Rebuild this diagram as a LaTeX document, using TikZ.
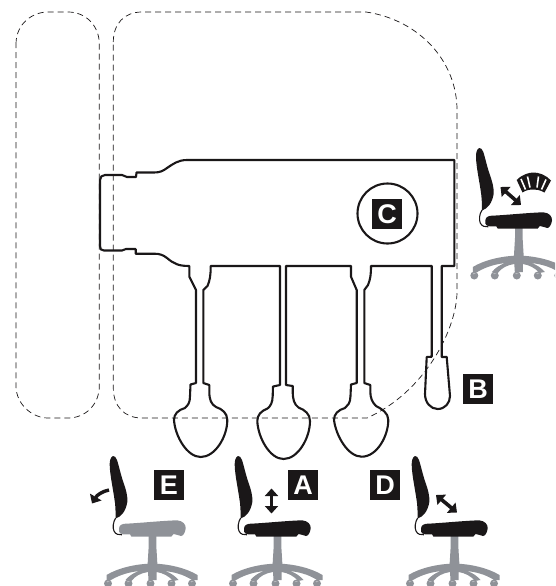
\documentclass[tikz,border=0pt]{standalone}
\usepackage{fontspec}
\setmainfont{Liberation Sans}
\usetikzlibrary{arrows.meta}
\definecolor{ink}{HTML}{1A1718}
\definecolor{steel}{HTML}{8F9298}
\tikzset{
  outline/.style={draw=ink,line width=2.1pt,line join=round,fill=none},
  zone/.style={draw=ink,line width=0.7pt,dash pattern=on 6pt off 4pt},
  tag/.style={fill=ink,text=white,minimum size=30pt,inner sep=0pt,font=\fontsize{27}{27}\selectfont\bfseries},
  twoway/.style={draw=ink,line width=3.6pt,{Triangle[length=7.5pt,width=13pt]}-{Triangle[length=7.5pt,width=13pt]}},
}
% #1 x, #2 y of backrest top, #3 seat colour
\newcommand{\officechair}[3]{%
\begin{scope}[shift={(#1,#2)}]
  \fill[steel] (35.7,80) -- (43.3,80) -- (43.3,90) -- (44.5,110) -- (34.5,110) -- (35.7,90) -- cycle;
  \fill[steel] (39.3,107.5) .. controls (22,108) and (5,112) .. (-6.5,119) -- (-6.5,124) -- (-2,124)
     .. controls (8,118) and (18,116) .. (26,115)
     .. controls (20,117) and (16,120) .. (12.5,124) -- (18.5,125)
     .. controls (22,120) and (28,117) .. (35,116) -- (35.5,124) -- (39.5,124) -- (43.5,124) -- (43.5,116)
     .. controls (50,117) and (56,120) .. (60,125) -- (65.5,124)
     .. controls (62,120) and (58,117) .. (52,115)
     .. controls (60,116) and (70,118) .. (79,124) -- (84.5,124) -- (84.5,119)
     .. controls (73,112) and (56,108) .. (39.3,107.5) -- cycle;
  \foreach \cx in {-5,15.5,37.5,58.5,79}{
    \fill[steel] (\cx,127.5) circle[radius=4];
    \fill[white] (\cx+1.5,125.5) arc[start angle=30,end angle=150,radius=1.7] -- cycle;
  }
  \draw[ink,line width=1.1pt] (2.7,62) .. controls (0,66) and (-0.5,72) .. (1,75) .. controls (2.5,78.5) and (6,79) .. (9,78.8);
  \fill[#3] (6,75.5) .. controls (5.5,70.5) and (7,68.5) .. (11,67.8) .. controls (28,67) and (48,64.8) .. (64,64.3)
     .. controls (70,64.8) and (73,68.5) .. (72.7,72.5) .. controls (72,77) and (70,80) .. (68,80)
     .. controls (65.5,79.5) and (63,78.2) .. (60.5,78) -- (58.3,80.7) -- (18.5,80.7) -- (17,78.3)
     .. controls (13,78.5) and (6.5,79) .. (6,75.5) -- cycle;
  \fill[ink] (0,0) .. controls (-2.5,1) and (-3.5,5) .. (-3.3,9)
     .. controls (-3,20) and (0,32) .. (2,47) .. controls (2.8,54) and (2.5,60) .. (2.7,62.5)
     .. controls (8,61) and (13,55) .. (14.3,46) .. controls (14.8,40) and (13,34) .. (11,28)
     .. controls (8,20) and (6,10) .. (4,4) .. controls (3,1.5) and (1.5,-0.5) .. (0,0) -- cycle;
\end{scope}}
\begin{document}
\begin{tikzpicture}[x=1pt,y=-1pt]
\useasboundingbox (0,0) rectangle (555,586);
\begin{scope}
\clip (0,0) rectangle (555,586);

% seating zones
\draw[zone] (16,44) .. controls (16,24) and (32,12) .. (48,12) -- (68,12)
   .. controls (86,12) and (99.3,26) .. (99.3,44) -- (99.3,386)
   .. controls (99.3,404) and (86,418) .. (68,418) -- (48,418)
   .. controls (32,418) and (16,404) .. (16,386) -- cycle;
\draw[zone] (113.3,42) .. controls (113.3,24) and (124,12) .. (142,12) -- (366,12)
   .. controls (420,20) and (457,62) .. (457,110) -- (457,293)
   .. controls (456,330) and (425,392) .. (367,418) -- (142,418)
   .. controls (124,418) and (113.3,406) .. (113.3,388) -- cycle;

% mechanism outline
\draw[outline] (454.3,160) -- (187,160) .. controls (178,160) and (173,164) .. (167,168)
  .. controls (163,171) and (160,172.5) .. (154,172.5) -- (136.5,172.5) -- (136,177) -- (127,177) -- (122,175) -- (105,175)
  .. controls (102,175) and (100,177) .. (100,180) -- (100,246)
  .. controls (100,249) and (101,250.5) .. (104,250.5) -- (122,250.5) -- (126,249) -- (135.7,249) -- (135.7,253.7) -- (154,253.7)
  .. controls (160,253.7) and (163,255) .. (167,258) .. controls (174,264) and (179,266) .. (189.3,266)
  % lever 1
  -- (189.3,276.7) -- (196,290) -- (196,383) -- (190.5,384.5) -- (190,396)
  .. controls (190,403) and (188,405) .. (185,408) .. controls (178,410) and (174,414) .. (174,420)
  .. controls (175,436) and (187,457) .. (200.7,457) .. controls (215,457) and (227.3,437) .. (227.3,420)
  .. controls (227.3,413) and (222,409) .. (216,407) .. controls (211,404) and (209.5,400) .. (209.3,392)
  -- (209.3,385) -- (203.3,383) -- (203.3,290) -- (207.5,286) .. controls (210,280) and (210.7,275) .. (210.7,266)
  -- (280,266)
  % lever 2
  -- (280,385) -- (273,386.5) -- (272.7,396)
  .. controls (272.5,403) and (270.5,406) .. (267.5,408.5) .. controls (261,411) and (257.3,415) .. (257.3,421)
  .. controls (258,438) and (270,459) .. (283.5,459) .. controls (298,459) and (310,438) .. (310,421)
  .. controls (310,414) and (305,410) .. (298.5,407.5) .. controls (294,404) and (293,400) .. (292.7,392)
  -- (292.7,386) -- (286,385) -- (286,266) -- (351,266)
  % lever 3
  -- (351,276.7) -- (356.7,290) -- (356.7,383) -- (351,384.5) -- (350.5,396)
  .. controls (350.3,403) and (348,405.5) .. (345,408) .. controls (338,410) and (334,414) .. (334,420)
  .. controls (336,436) and (348,456.7) .. (361.7,456.7) .. controls (377,456.7) and (388.3,436) .. (388.3,420)
  .. controls (388.3,413) and (382,409) .. (376,406) .. controls (372,402) and (370.5,398) .. (370.3,392)
  -- (370.3,385) -- (364.3,383) -- (364.3,290) -- (368,285) .. controls (370.5,279) and (371,274) .. (371,266)
  -- (431.7,266)
  % lever B
  -- (431.7,356.7) -- (426.7,357) -- (425,394)
  .. controls (425,403) and (431,409) .. (437.7,409) .. controls (445,409) and (450,403) .. (450,396)
  -- (446.7,357) -- (441.7,357) -- (441.7,266) -- (454.3,266) -- cycle;

% C marking
\node[draw=ink,line width=2.1pt,circle,minimum size=60pt,inner sep=0pt] (ring) at (387.5,213.5) {};
\node[tag] (tagC) at (387,214) {C};
\node[tag] (tagB) at (478,389) {B};
\node[tag] (tagE) at (169,485) {E};
\node[tag] (tagA) at (303,485) {A};
\node[tag] (tagD) at (385,485) {D};

% chairs
\officechair{479.3}{148}{ink}
\officechair{113}{456}{steel}
\officechair{238}{456}{ink}
\officechair{415}{456}{ink}

% movement arrows
\coordinate (arCa) at (500.5,187);
\coordinate (arCb) at (521,205);
\draw[twoway] (arCa) -- (arCb);
\coordinate (arAa) at (271.5,488.5);
\coordinate (arAb) at (271.5,513.5);
\draw[twoway] (arAa) -- (arAb);
\coordinate (arDa) at (436,495);
\coordinate (arDb) at (457,512.5);
\draw[twoway] (arDa) -- (arDb);
\coordinate (arEa) at (109,490);
\coordinate (arEb) at (92,503.5);
\draw[draw=ink,line width=3.4pt,-{Triangle[length=7.5pt,width=13pt]}] (arEa) .. controls (103,491) and (97,495) .. (arEb);

% tension fan
\fill[ink] (516.7,180) .. controls (522,174.5) and (529,172.5) .. (533.5,172.5)
   .. controls (539,172.5) and (546,175) .. (551,180.5) -- (544.5,192.5)
   .. controls (540,190) and (537,189.5) .. (533.5,189.5)
   .. controls (530,189.5) and (526,190) .. (522.5,192.5) -- cycle;
\draw[white,line width=1.6pt] (521,179) -- (525.5,189.5)  (527.5,176.5) -- (530,187.5)  (538.5,176.5) -- (537,187.5)  (546,179.5) -- (541.5,189.5);
\end{scope}
\end{tikzpicture}
\end{document}
